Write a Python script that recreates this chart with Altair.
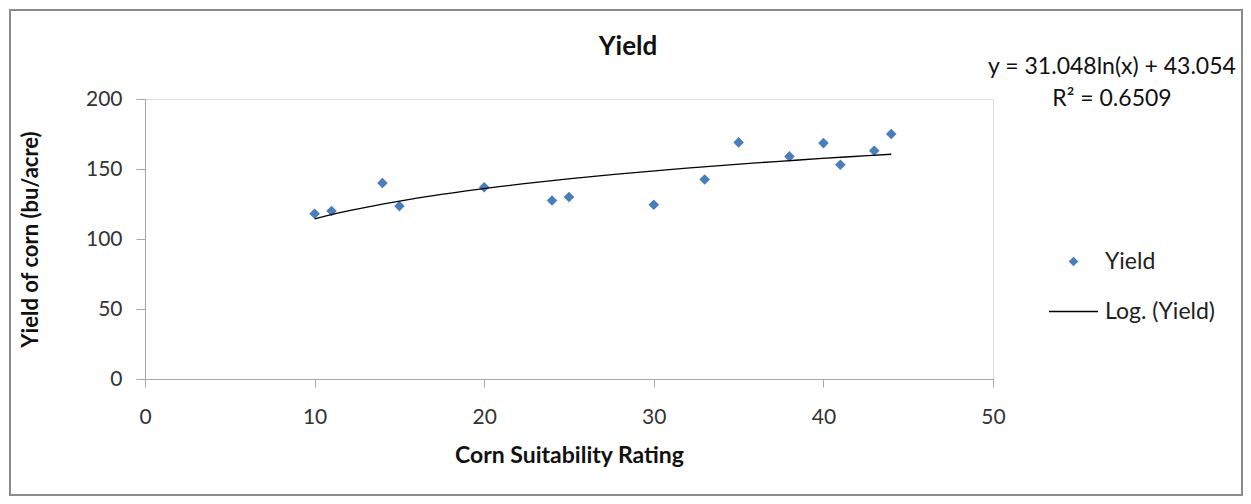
import altair as alt
import pandas as pd

# Data
rating = [10, 11, 14, 15, 20, 24, 25, 30, 33, 35, 38, 40, 41, 43, 44]
yield_bu = [118, 120, 140, 123.5, 137, 127.5, 130, 124.5, 142.5, 169, 159, 168.5, 153, 163, 175]
series_names = ["Yield", "Log. (Yield)"]
eq_text = ["y = 31.048ln(x) + 43.054", "R² = 0.6509"]
chart_title = "Yield"

FONT = "Lato"
BLUE = "#4a7ebb"
AXIS_GRAY = "#a6a6a6"

df = pd.DataFrame({"rating": rating, "yield": yield_bu, "series": ["Yield"] * len(rating)})

W, H = 848, 280

x_scale = alt.Scale(domain=[0, 50], nice=False, zero=False)
y_scale = alt.Scale(domain=[0, 200], nice=False)

x_axis = alt.Axis(
    title="Corn Suitability Rating", values=[0, 10, 20, 30, 40, 50], grid=False, labelFlush=False,
    tickSize=8, labelPadding=19, labelFontSize=21, labelFont=FONT, labelColor="#333333",
    titleFont=FONT, titleFontSize=23, titleFontWeight="bold", titleColor="#111111",
    titleX=W / 2, titleY=76, titleBaseline="middle", titleAlign="center",
    domainColor=AXIS_GRAY, tickColor=AXIS_GRAY,
)
y_axis = alt.Axis(
    title="Yield of corn (bu/acre)", values=[0, 50, 100, 150, 200], grid=False, labelFlush=False,
    tickSize=9, labelPadding=14, labelFontSize=21, labelFont=FONT, labelColor="#333333",
    titleFont=FONT, titleFontSize=22, titleFontWeight="bold", titleColor="#111111",
    titleX=-115, titleY=H / 2, titleBaseline="middle", titleAlign="center", titleAngle=-90,
    domainColor=AXIS_GRAY, tickColor=AXIS_GRAY,
)

legend = alt.Legend(
    title=None, orient="none", legendX=903, legendY=151, padding=0,
    labelFont=FONT, labelFontSize=23, labelColor="#222222", labelOffset=6,
    rowPadding=12, symbolStrokeWidth=1.3,
)

one_row = pd.DataFrame({"k": [0]})

frame = alt.Chart(one_row).mark_rect(fill="transparent", stroke="#8c8c8c", strokeWidth=2).encode(
    x=alt.value(-135), x2=alt.value(1097), y=alt.value(-89), y2=alt.value(396)
)

points = alt.Chart(df).mark_point(filled=True, opacity=1).encode(
    x=alt.X("rating:Q", scale=x_scale, axis=x_axis),
    y=alt.Y("yield:Q", scale=y_scale, axis=y_axis),
    fill=alt.Fill("series:N", scale=alt.Scale(domain=series_names, range=[BLUE, "black"]), legend=legend),
    stroke=alt.Stroke("series:N", scale=alt.Scale(domain=series_names, range=[BLUE, "black"]), legend=legend),
    shape=alt.Shape("series:N", scale=alt.Scale(domain=series_names, range=["diamond", "stroke"]), legend=legend),
    size=alt.Size("series:N", scale=alt.Scale(domain=series_names, range=[60, 2401]), legend=legend),
)

trend = alt.Chart(df).transform_regression(
    "rating", "yield", method="log", extent=[10, 44]
).mark_line(color="black", strokeWidth=1.3).encode(
    x=alt.X("rating:Q", scale=x_scale),
    y=alt.Y("yield:Q", scale=y_scale),
)

equation = alt.Chart(one_row).mark_text(
    font=FONT, fontSize=23, color="#111111", align="center", baseline="middle", lineHeight=32,
    lineBreak="\n",
).encode(
    x=alt.value(967), y=alt.value(-32), text=alt.value("\n".join(eq_text))
)

title_text = alt.Chart(one_row).mark_text(
    font=FONT, fontSize=26, fontWeight="bold", color="#111111", align="center", baseline="middle",
).encode(
    x=alt.value(483), y=alt.value(-52), text=alt.value(chart_title)
)

chart = alt.layer(frame, points, trend, equation, title_text).properties(
    width=W, height=H,
    autosize=alt.AutoSizeParams(type="none"),
    padding={"left": 137, "top": 91, "right": 250, "bottom": 117},
).configure_view(stroke=None).configure(background="white")

chart.save("out.html", embed_options={"renderer": "svg", "actions": False})
